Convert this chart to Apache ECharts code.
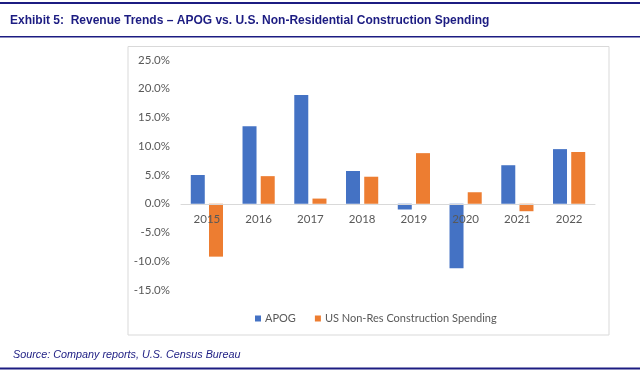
<!DOCTYPE html>
<html>
<head>
<meta charset="utf-8">
<title>Exhibit 5</title>
<script src="https://cdn.jsdelivr.net/npm/echarts@6/dist/echarts.min.js"></script>
<style>
  html, body { margin: 0; padding: 0; background: #fff; }
  #chart { width: 640px; height: 375px; }
</style>
</head>
<body>
<div id="chart"></div>
<script>
// data
var years = ['2015', '2016', '2017', '2018', '2019', '2020', '2021', '2022'];
var apog = [5.0, 13.5, 18.9, 5.7, -1.0, -11.2, 6.7, 9.5];
var nonRes = [-9.2, 4.8, 0.9, 4.7, 8.8, 2.0, -1.3, 9.0];
var seriesNames = ['APOG', 'US Non-Res Construction Spending'];

var navy = '#1c1c82',
  blue = '#4472c4',
  orange = '#ed7d31',
  grey = '#595959';

var chart = echarts.init(document.getElementById('chart'));

var option = {
  animation: false,
  textStyle: { fontFamily: 'Lato' },
  graphic: [
    // header / footer rules
    { type: 'rect', shape: { x: 0, y: 2, width: 640, height: 2 }, style: { fill: navy } },
    { type: 'rect', shape: { x: 0, y: 36, width: 640, height: 1.5 }, style: { fill: navy } },
    { type: 'rect', shape: { x: 0, y: 367.5, width: 640, height: 2 }, style: { fill: navy } },
    {
      type: 'text', left: 10, top: 15,
      style: {
        text: 'Exhibit 5:  Revenue Trends \u2013 APOG vs. U.S. Non-Residential Construction Spending',
        fill: navy, font: 'bold 12px "Liberation Sans", Arial, sans-serif'
      }
    },
    {
      type: 'text', left: 13, top: 349,
      style: {
        text: 'Source: Company reports, U.S. Census Bureau',
        fill: navy, font: 'italic 10.8px "Liberation Sans", Arial, sans-serif'
      }
    },
    // chart frame
    {
      type: 'rect', z: -1,
      shape: { x: 128, y: 46.5, width: 481, height: 288.5 },
      style: { fill: 'none', stroke: '#d9d9d9', lineWidth: 1 }
    }
  ],
  grid: { left: 181, right: 45, top: 60, bottom: 85, containLabel: false },
  legend: {
    data: seriesNames,
    left: 250, top: 308,
    icon: 'rect', itemWidth: 6, itemHeight: 6, itemGap: 19,
    textStyle: { color: grey, fontSize: 11, fontFamily: 'Lato', padding: [0, 0, 0, -1] }
  },
  xAxis: {
    type: 'category',
    data: years,
    z: 5,
    offset: -86.25,
    axisLine: { onZero: false, lineStyle: { color: '#d9d9d9', width: 1 } },
    axisTick: { show: false },
    axisLabel: { color: grey, fontSize: 11.5, margin: 10 }
  },
  yAxis: {
    type: 'value',
    min: -15, max: 25, interval: 5,
    axisLine: { show: false },
    axisTick: { show: false },
    splitLine: { show: false },
    axisLabel: {
      color: grey, fontSize: 11.5, margin: 11,
      formatter: function (v) { return v.toFixed(1) + '%'; }
    }
  },
  series: [{
    name: seriesNames[0],
    type: 'bar',
    data: apog,
    barWidth: 14,
    barGap: '30%',
    itemStyle: { color: blue }
  }, {
    name: seriesNames[1],
    type: 'bar',
    data: nonRes,
    barWidth: 14,
    itemStyle: { color: orange }
  }]
};

chart.setOption(option);
</script>
</body>
</html>
